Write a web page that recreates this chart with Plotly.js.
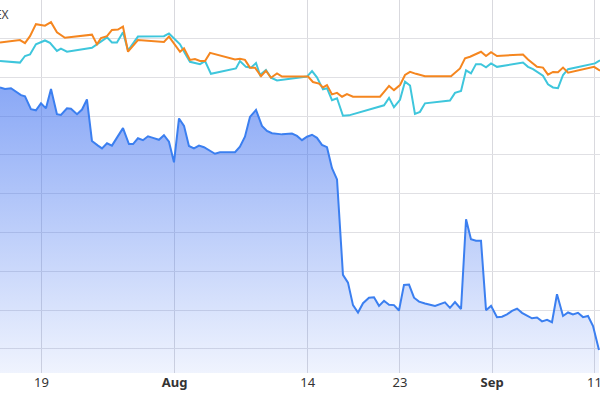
<!DOCTYPE html>
<html>
<head>
<meta charset="utf-8">
<script src="https://cdn.plot.ly/plotly-3.0.1.min.js"></script>
<style>html,body{margin:0;padding:0;background:#fff;}#chart{width:600px;height:400px;}</style>
</head>
<body>
<div id="chart"></div>
<script>
// Data (days are offsets from baseDate; values in index units)
const baseDate = '2023-07-19';
const blueDays = [-4.05,-3.56,-2.98,-2.59,-2.00,-1.61,-1.03,-0.54,-0.05,0.44,0.93,1.51,1.90,2.49,2.88,3.47,3.96,4.44,4.93,5.52,5.91,6.40,6.88,7.96,8.54,8.94,9.42,9.91,10.40,10.89,11.47,11.96,12.45,12.94,13.43,13.92,14.40,14.89,15.38,15.87,16.36,16.94,17.43,17.92,18.41,18.90,19.38,19.87,20.36,20.95,21.53,22.02,22.51,23.49,24.46,24.95,25.44,25.93,26.42,26.90,27.39,27.88,28.37,28.86,29.44,29.93,30.42,30.91,31.40,31.98,32.47,32.96,33.45,33.94,34.42,34.91,35.40,35.89,36.38,36.87,37.45,38.43,39.40,39.89,40.38,40.97,41.46,41.94,42.43,42.92,43.41,43.90,44.48,44.97,45.46,45.95,46.44,46.92,47.41,47.90,48.39,48.88,49.37,49.85,50.34,50.93,51.42,51.90,52.39,52.88,53.37,53.86,54.44];
const blueValues = [73.6,73.2,73.4,72.7,71.6,71.3,68.0,67.7,69.5,68.2,73.2,66.7,66.5,68.2,68.1,66.7,67.9,70.5,59.8,58.6,57.9,59.2,58.6,63.1,59.0,59.0,60.5,60.0,61.0,60.6,60.1,61.3,59.6,54.3,65.6,63.7,58.5,57.9,58.6,58.2,57.5,56.5,56.9,56.9,56.9,56.9,58.3,60.9,66.0,67.8,63.7,62.4,61.8,61.5,61.7,61.1,60.0,60.9,61.4,60.6,58.8,58.2,52.8,49.9,25.3,23.3,17.5,15.6,18.0,19.4,19.5,17.3,18.6,17.6,17.5,16.1,22.7,22.8,19.4,18.4,17.9,17.3,18.2,16.8,18.3,16.5,39.6,34.5,34.1,34.1,16.2,17.3,14.4,14.5,15.1,16.0,16.6,15.5,14.8,14.1,14.3,13.3,13.7,13.1,20.3,14.7,15.6,15.1,15.5,14.4,14.7,12.1,5.9];

const orangeDays = [-4.05,-2.10,-1.61,-1.12,-0.54,0.34,0.93,1.51,2.29,4.93,5.42,5.81,6.40,6.88,7.47,7.96,8.45,9.42,11.96,12.45,13.53,13.92,14.50,14.99,15.48,15.97,16.46,18.90,19.38,19.87,20.36,20.85,21.44,21.92,22.41,23.00,23.49,26.03,26.51,27.10,27.49,27.88,28.37,28.86,29.35,29.83,30.42,33.06,33.54,33.94,34.42,35.01,35.50,35.99,36.57,37.45,39.99,40.87,41.36,41.85,42.92,43.41,43.90,44.48,47.02,47.51,48.39,48.97,49.46,49.95,50.44,50.93,51.42,53.96,54.54];
const orangeValues = [85.2,85.8,85.0,86.8,89.9,89.5,90.4,87.8,86.4,87.2,84.7,86.3,86.8,88.4,88.5,89.3,82.8,85.8,85.3,86.7,82.8,83.7,80.7,80.9,80.4,80.4,82.5,80.8,81.0,80.7,78.7,78.7,76.5,77.9,76.1,77.2,76.4,76.4,75.0,74.6,73.6,74.2,71.8,72.2,71.2,71.9,71.2,71.2,72.7,74.0,72.9,74.2,76.8,77.6,77.1,76.5,76.5,78.5,81.1,81.5,82.8,81.7,82.7,81.7,82.1,80.8,78.9,78.7,76.9,77.6,77.5,78.7,77.4,78.9,77.9];

const cyanDays = [-4.05,-2.10,-1.61,-1.12,-0.54,0.34,0.83,1.51,1.90,2.49,4.93,5.62,6.40,6.88,7.37,7.96,8.45,9.42,11.96,12.45,12.84,13.53,14.01,14.50,15.48,15.97,16.55,18.99,19.38,19.97,20.46,20.95,21.34,21.92,22.41,23.00,25.93,26.42,26.90,27.49,27.88,28.37,28.86,29.44,30.03,33.45,33.94,34.42,35.01,35.50,35.99,36.47,36.96,37.45,39.89,40.38,40.97,41.46,41.94,42.43,42.92,43.41,43.90,44.48,47.02,47.51,48.00,48.49,48.97,49.46,49.95,50.44,50.93,51.42,54.05,54.54];
const cyanValues = [80.4,80.0,81.7,82.1,84.7,85.7,85.1,83.0,83.6,82.8,83.8,85.0,86.5,85.2,85.2,87.8,83.1,86.7,86.8,87.5,86.5,84.7,82.4,80.2,79.6,80.4,77.1,78.5,80.4,78.9,78.7,79.9,76.8,78.1,76.1,75.4,76.4,77.8,76.2,73.1,73.4,70.3,70.8,66.3,66.4,69.0,70.9,68.5,70.4,75.1,74.1,66.8,67.3,69.5,70.2,72.2,72.7,78.0,77.2,79.6,79.6,78.8,79.8,78.9,80.0,78.9,78.3,77.4,76.6,74.4,73.6,73.4,76.8,78.3,79.8,80.6];

const tickDates = ['2023-07-19','2023-08-01','2023-08-14','2023-08-23','2023-09-01','2023-09-11'];
const tickLabels = ['19','<b>Aug</b>','14','23','<b>Sep</b>','11'];
const legendText = 'INDEX';

function toDate(d) {
  const ms = Date.parse(baseDate + 'T00:00:00Z') + d * 86400000;
  return new Date(ms).toISOString().replace('T', ' ').replace('Z', '');
}

const blue = {
  x: blueDays.map(toDate), y: blueValues, type: 'scatter', mode: 'lines',
  line: {color: '#3b7ff0', width: 2}, fill: 'tozeroy',
  fillgradient: {type: 'vertical', start: 0, stop: 74,
    colorscale: [[0, 'rgba(59,110,240,0.08)'], [1, 'rgba(59,110,240,0.6)']]},
  hoverinfo: 'skip', showlegend: false
};
const orange = {
  x: orangeDays.map(toDate), y: orangeValues, type: 'scatter', mode: 'lines',
  line: {color: '#f5861f', width: 2}, hoverinfo: 'skip', showlegend: false
};
const cyan = {
  x: cyanDays.map(toDate), y: cyanValues, type: 'scatter', mode: 'lines',
  line: {color: '#3ec6dc', width: 2}, hoverinfo: 'skip', showlegend: false
};

const layout = {
  width: 600, height: 400,
  margin: {l: 0, r: 0, t: 0, b: 27, pad: 0},
  paper_bgcolor: '#ffffff', plot_bgcolor: '#ffffff',
  font: {family: 'Noto Sans, Open Sans, sans-serif', size: 13, color: '#333'},
  xaxis: {
    type: 'date', range: [toDate(-4.05), toDate(54.54)],
    tickvals: tickDates, ticktext: tickLabels, ticks: '',
    ticklabeloverflow: 'allow',
    showgrid: true, gridcolor: '#d9d9de', gridwidth: 1,
    showline: false, zeroline: false, fixedrange: true,
    tickfont: {family: 'Noto Sans, sans-serif', size: 13, color: '#333'}
  },
  yaxis: {
    range: [0, 96.13], tick0: 6.19, dtick: 10, showticklabels: false, ticks: '',
    showgrid: true, gridcolor: '#e0e0e4', gridwidth: 1,
    showline: false, zeroline: false, fixedrange: true
  },
  annotations: [{
    xref: 'paper', yref: 'paper', x: 0, y: 1, xanchor: 'right', yanchor: 'top',
    xshift: 11, yshift: -4, text: legendText, showarrow: false,
    font: {family: 'Noto Sans, sans-serif', size: 12, color: '#444'}
  }]
};

Plotly.newPlot('chart', [blue, cyan, orange], layout, {displayModeBar: false, staticPlot: true});
</script>
</body>
</html>
